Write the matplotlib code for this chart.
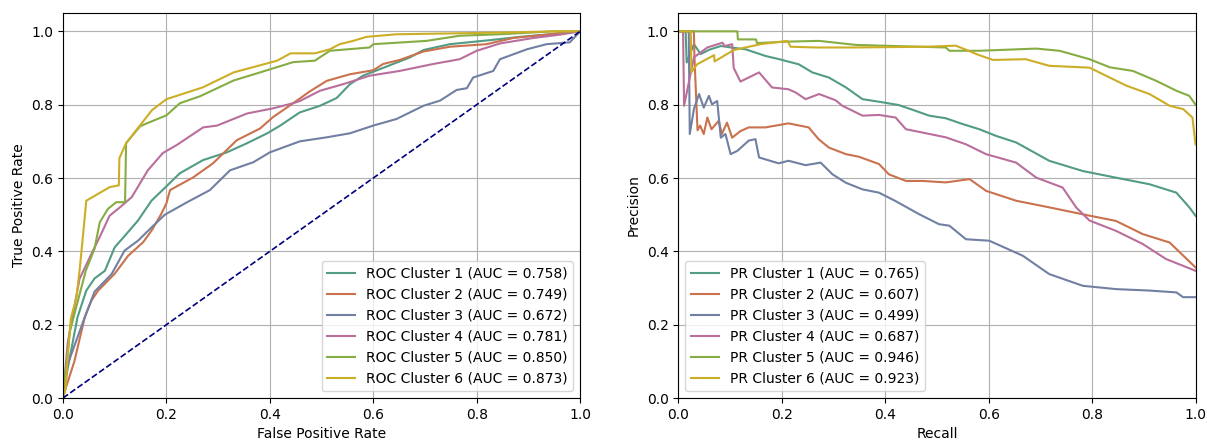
import matplotlib
matplotlib.use("Agg")
import matplotlib.pyplot as plt

plt.rcParams["font.family"] = "DejaVu Sans"

# cluster colours (muted Set2)
COLORS = ["#529b84", "#ca714e", "#7180a2", "#b96e9c", "#85ad43", "#ccae26"]

CLUSTERS = ["Cluster 1", "Cluster 2", "Cluster 3", "Cluster 4", "Cluster 5", "Cluster 6"]
ROC_AUC = [0.758, 0.749, 0.672, 0.781, 0.850, 0.873]
PR_AUC = [0.765, 0.607, 0.499, 0.687, 0.946, 0.923]

# ── ROC curves ─────────────────────────────────────────────
fpr1 = [0, 0.009, 0.028, 0.045, 0.061, 0.081, 0.1, 0.123, 0.145, 0.171, 0.188, 0.226, 0.271,
        0.317, 0.356, 0.395, 0.42, 0.458, 0.497, 0.529, 0.555, 0.58, 0.613, 0.671, 0.697,
        0.748, 0.826, 0.884, 0.942, 1.0]
tpr1 = [0, 0.08, 0.22, 0.293, 0.326, 0.347, 0.411, 0.448, 0.484, 0.538, 0.561, 0.613, 0.649,
        0.67, 0.695, 0.722, 0.743, 0.779, 0.797, 0.818, 0.856, 0.879, 0.897, 0.929, 0.949,
        0.965, 0.976, 0.985, 0.992, 1.0]

fpr2 = [0, 0.006, 0.022, 0.042, 0.055, 0.068, 0.1, 0.126, 0.155, 0.171, 0.19, 0.2, 0.207,
        0.252, 0.29, 0.336, 0.381, 0.406, 0.445, 0.477, 0.51, 0.555, 0.6, 0.619, 0.651,
        0.697, 0.748, 0.819, 0.871, 0.942, 1.0]
tpr2 = [0, 0.03, 0.10, 0.22, 0.266, 0.293, 0.339, 0.388, 0.425, 0.456, 0.502, 0.531, 0.567,
        0.602, 0.64, 0.703, 0.735, 0.766, 0.804, 0.836, 0.865, 0.883, 0.894, 0.911, 0.922,
        0.945, 0.958, 0.965, 0.982, 0.992, 1.0]

fpr3 = [0, 0.006, 0.024, 0.042, 0.061, 0.094, 0.119, 0.145, 0.171, 0.197, 0.24, 0.284, 0.323,
        0.368, 0.4, 0.458, 0.51, 0.555, 0.6, 0.645, 0.697, 0.729, 0.761, 0.781, 0.793,
        0.832, 0.845, 0.897, 0.935, 0.98, 1.0]
tpr3 = [0, 0.08, 0.15, 0.22, 0.29, 0.338, 0.402, 0.429, 0.465, 0.5, 0.534, 0.567, 0.621,
        0.643, 0.67, 0.7, 0.711, 0.722, 0.743, 0.761, 0.797, 0.811, 0.84, 0.845, 0.874,
        0.892, 0.924, 0.951, 0.965, 0.97, 1.0]

fpr4 = [0, 0.009, 0.032, 0.055, 0.074, 0.09, 0.11, 0.133, 0.164, 0.193, 0.22, 0.271, 0.298,
        0.356, 0.406, 0.445, 0.458, 0.497, 0.542, 0.593, 0.651, 0.716, 0.767, 0.8, 0.845,
        0.91, 0.961, 1.0]
tpr4 = [0, 0.15, 0.325, 0.393, 0.448, 0.497, 0.52, 0.548, 0.621, 0.668, 0.69, 0.738, 0.743,
        0.776, 0.79, 0.804, 0.81, 0.838, 0.856, 0.879, 0.892, 0.911, 0.924, 0.947, 0.967,
        0.982, 0.991, 1.0]

fpr5 = [0, 0.008, 0.013, 0.044, 0.061, 0.071, 0.087, 0.103, 0.12, 0.122, 0.149, 0.162, 0.2,
        0.226, 0.265, 0.33, 0.381, 0.445, 0.487, 0.516, 0.593, 0.6, 0.703, 0.767, 0.845,
        0.948, 1.0]
tpr5 = [0, 0.11, 0.18, 0.347, 0.407, 0.479, 0.516, 0.534, 0.534, 0.695, 0.741, 0.749, 0.771,
        0.804, 0.823, 0.866, 0.888, 0.916, 0.92, 0.947, 0.956, 0.965, 0.974, 0.988, 0.992,
        1.0, 1.0]

fpr6 = [0, 0.005, 0.008, 0.015, 0.026, 0.032, 0.039, 0.045, 0.09, 0.108, 0.109, 0.122, 0.172,
        0.2, 0.27, 0.33, 0.38, 0.414, 0.44, 0.487, 0.516, 0.535, 0.561, 0.587, 0.645,
        0.864, 0.948, 1.0]
tpr6 = [0, 0.026, 0.09, 0.216, 0.275, 0.347, 0.448, 0.538, 0.575, 0.58, 0.654, 0.695, 0.785,
        0.815, 0.847, 0.888, 0.907, 0.92, 0.94, 0.94, 0.951, 0.965, 0.974, 0.985, 0.992,
        0.997, 1.0, 1.0]

# ── PR curves ──────────────────────────────────────────────
rec1 = [0, 0.014, 0.016, 0.03, 0.043, 0.06, 0.082, 0.107, 0.13, 0.168, 0.195, 0.233, 0.259,
        0.291, 0.324, 0.356, 0.388, 0.426, 0.453, 0.485, 0.517, 0.55, 0.582, 0.614, 0.653,
        0.717, 0.782, 0.846, 0.911, 0.963, 0.988, 1.0]
prec1 = [1.0, 1.0, 0.915, 0.965, 0.938, 0.95, 0.96, 0.955, 0.951, 0.933, 0.924, 0.91, 0.888,
         0.874, 0.847, 0.815, 0.808, 0.799, 0.786, 0.77, 0.763, 0.747, 0.733, 0.715, 0.697,
         0.647, 0.619, 0.601, 0.583, 0.56, 0.52, 0.497]

rec2 = [0, 0.03, 0.031, 0.037, 0.042, 0.049, 0.056, 0.064, 0.078, 0.084, 0.094, 0.104, 0.12,
        0.136, 0.168, 0.213, 0.252, 0.271, 0.291, 0.324, 0.349, 0.388, 0.407, 0.44, 0.472,
        0.517, 0.563, 0.595, 0.653, 0.717, 0.782, 0.846, 0.898, 0.95, 1.0]
prec2 = [1.0, 1.0, 0.93, 0.73, 0.743, 0.72, 0.765, 0.733, 0.756, 0.72, 0.751, 0.71, 0.728,
         0.738, 0.738, 0.749, 0.738, 0.706, 0.683, 0.665, 0.658, 0.638, 0.61, 0.592, 0.592,
         0.588, 0.597, 0.565, 0.538, 0.52, 0.501, 0.483, 0.447, 0.424, 0.356]

rec3 = [0, 0.02, 0.022, 0.03, 0.04, 0.049, 0.059, 0.065, 0.075, 0.082, 0.091, 0.101, 0.114,
        0.136, 0.149, 0.156, 0.194, 0.213, 0.246, 0.275, 0.298, 0.324, 0.356, 0.388, 0.42,
        0.466, 0.504, 0.524, 0.556, 0.601, 0.666, 0.717, 0.782, 0.846, 0.911, 0.963, 0.976, 1.0]
prec3 = [1.0, 1.0, 0.72, 0.788, 0.829, 0.792, 0.824, 0.801, 0.81, 0.71, 0.72, 0.665, 0.674,
         0.702, 0.706, 0.656, 0.64, 0.647, 0.635, 0.642, 0.61, 0.587, 0.569, 0.56, 0.537,
         0.501, 0.474, 0.47, 0.433, 0.429, 0.388, 0.338, 0.306, 0.297, 0.293, 0.288, 0.275, 0.275]

rec4 = [0, 0.009, 0.011, 0.03, 0.056, 0.085, 0.09, 0.104, 0.107, 0.12, 0.156, 0.181, 0.213,
        0.227, 0.246, 0.272, 0.304, 0.317, 0.336, 0.356, 0.388, 0.42, 0.44, 0.472, 0.517,
        0.556, 0.595, 0.653, 0.692, 0.743, 0.769, 0.795, 0.846, 0.898, 0.943, 1.0]
prec4 = [1.0, 1.0, 0.797, 0.929, 0.956, 0.969, 0.96, 0.965, 0.9, 0.863, 0.888, 0.847, 0.842,
         0.833, 0.815, 0.829, 0.812, 0.797, 0.784, 0.77, 0.772, 0.765, 0.733, 0.724, 0.711,
         0.692, 0.665, 0.642, 0.601, 0.574, 0.52, 0.484, 0.456, 0.42, 0.379, 0.347]

rec5 = [0, 0.114, 0.115, 0.15, 0.152, 0.213, 0.272, 0.343, 0.517, 0.524, 0.582, 0.692, 0.737,
        0.795, 0.834, 0.879, 0.924, 0.963, 0.988, 1.0]
prec5 = [1.0, 1.0, 0.978, 0.978, 0.968, 0.972, 0.974, 0.963, 0.956, 0.947, 0.947, 0.953, 0.947,
         0.924, 0.902, 0.892, 0.865, 0.838, 0.824, 0.80]

rec6 = [0, 0.024, 0.025, 0.036, 0.069, 0.07, 0.107, 0.159, 0.211, 0.217, 0.265, 0.343, 0.478,
        0.536, 0.556, 0.576, 0.608, 0.672, 0.717, 0.795, 0.834, 0.866, 0.911, 0.95, 0.976,
        0.994, 1.0]
prec6 = [1.0, 1.0, 0.888, 0.91, 0.935, 0.918, 0.949, 0.965, 0.974, 0.958, 0.956, 0.956, 0.958,
         0.961, 0.95, 0.938, 0.922, 0.924, 0.906, 0.901, 0.874, 0.852, 0.829, 0.797, 0.788,
         0.765, 0.692]

ROC = [(fpr1, tpr1), (fpr2, tpr2), (fpr3, tpr3), (fpr4, tpr4), (fpr5, tpr5), (fpr6, tpr6)]
PR = [(rec1, prec1), (rec2, prec2), (rec3, prec3), (rec4, prec4), (rec5, prec5), (rec6, prec6)]

fig, (ax1, ax2) = plt.subplots(1, 2, figsize=(12.07, 4.41), dpi=100)
fig.subplots_adjust(left=0.0522, right=0.9905, bottom=0.0975, top=0.9705, wspace=0.19)

for (x, y), name, auc, c in zip(ROC, CLUSTERS, ROC_AUC, COLORS):
    ax1.plot(x, y, color=c, lw=1.5, label=f"ROC {name} (AUC = {auc:.3f})")
ax1.plot([0, 1], [0, 1], color="navy", lw=1.2, linestyle="--")
ax1.set_xlim(0, 1)
ax1.set_ylim(0, 1.05)
ax1.set_xlabel("False Positive Rate")
ax1.set_ylabel("True Positive Rate")
ax1.legend(loc="lower right")
ax1.grid(True)

for (x, y), name, auc, c in zip(PR, CLUSTERS, PR_AUC, COLORS):
    ax2.plot(x, y, color=c, lw=1.5, label=f"PR {name} (AUC = {auc:.3f})")
ax2.set_xlim(0, 1)
ax2.set_ylim(0, 1.05)
ax2.set_xlabel("Recall")
ax2.set_ylabel("Precision")
ax2.legend(loc="lower left")
ax2.grid(True)

fig.savefig("out.png", dpi=100)
plt.close(fig)
